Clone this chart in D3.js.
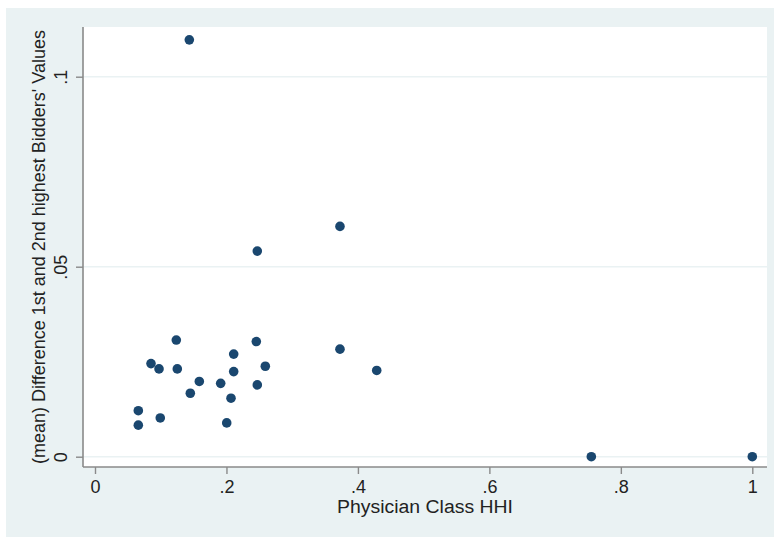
<!DOCTYPE html>
<html>
<head>
<meta charset="utf-8">
<script src="https://cdn.jsdelivr.net/npm/d3@7"></script>
<style>
  html, body { margin: 0; padding: 0; background: #fff; }
  svg { display: block; }
</style>
</head>
<body>
<svg id="chart" width="774" height="537"></svg>
<script>
/* data */
const hhi = [0.1435, 0.3727, 0.2469, 0.1237, 0.2454, 0.3727, 0.2110, 0.0852, 0.0974, 0.1252, 0.2591, 0.2110,
  0.4286, 0.1587, 0.1912, 0.2469, 0.1450, 0.2069, 0.0659, 0.0993, 0.0659, 0.2004, 0.7551, 1.0]
const bidDiff = [0.1097, 0.0606, 0.0541, 0.0307, 0.0303, 0.0283, 0.0270, 0.0245, 0.0231, 0.0231, 0.0238, 0.0224,
  0.0227, 0.0198, 0.0193, 0.0189, 0.0167, 0.0154, 0.0121, 0.0102, 0.0083, 0.0089, 0, 0]

const xTicks = [0, 0.2, 0.4, 0.6, 0.8, 1]
const xTickLabels = ["0", ".2", ".4", ".6", ".8", "1"]
const yTicks = [0, 0.05, 0.1]
const yTickLabels = ["0", ".05", ".1"]

const xTitle = "Physician Class HHI"
const yTitle = "(mean) Difference 1st and 2nd highest Bidders' Values"

/* layout */
const width = 774
const height = 537
const plotLeft = 83
const plotRight = 767
const plotTop = 27
const plotBottom = 467
const font = "'Liberation Sans', Arial, sans-serif"
const textColor = "#222"
const axisColor = "#8a8a8a"

const svg = d3.select("#chart")

/* outer (graph region) and inner (plot region) backgrounds */
svg.append("rect")
.attr("x", 6).attr("y", 8)
.attr("width", width - 6).attr("height", height - 8)
.attr("fill", "#eaf2f3")

svg.append("rect")
.attr("x", plotLeft).attr("y", plotTop)
.attr("width", plotRight - plotLeft).attr("height", plotBottom - plotTop)
.attr("fill", "#fff")

/* scales */
const x = d3.scaleLinear([0, 1], [95, 752.3])
const y = d3.scaleLinear([0, 0.1], [456.7, 76.7])

/* grid lines */
svg.append("g")
.selectAll("line")
.data(yTicks)
.join("line")
.attr("x1", plotLeft).attr("x2", plotRight)
.attr("y1", d => y(d)).attr("y2", d => y(d))
.attr("stroke", "#eaf2f3")
.attr("stroke-width", 1.6)

/* x axis */
const gx = svg.append("g")
.attr("transform", `translate(0, ${plotBottom})`)
.call(d3.axisBottom(x).tickValues(xTicks).tickFormat((d, i) => xTickLabels[i]).tickSize(7))
gx.select(".domain").remove()
gx.selectAll(".tick line").attr("stroke", axisColor).attr("stroke-width", 1.4)
gx.selectAll(".tick text")
.attr("fill", textColor)
.style("font", `18px ${font}`)
.attr("dy", null)
.attr("y", 26)

gx.append("line")
.attr("x1", plotLeft).attr("x2", plotRight)
.attr("stroke", axisColor).attr("stroke-width", 1.6)

/* y axis, labels rotated as in Stata */
const gy = svg.append("g")
.attr("transform", `translate(${plotLeft},0)`)
.call(d3.axisLeft(y).tickValues(yTicks).tickFormat((d, i) => yTickLabels[i]).tickSize(7))
gy.select(".domain").remove()
gy.selectAll(".tick line").attr("stroke", axisColor).attr("stroke-width", 1.4)
gy.selectAll(".tick text")
.attr("fill", textColor)
.style("font", `18px ${font}`)
.attr("x", null).attr("dy", null)
.attr("text-anchor", "middle")
.attr("transform", "translate(-16, 0) rotate(-90)")

gy.append("line")
.attr("y1", plotTop).attr("y2", plotBottom)
.attr("stroke", axisColor).attr("stroke-width", 1.6)

/* axis titles */
svg.append("text")
.attr("x", (plotLeft + plotRight) / 2)
.attr("y", 513)
.attr("text-anchor", "middle")
.attr("fill", textColor)
.attr("textLength", 176)
.attr("lengthAdjust", "spacingAndGlyphs")
.style("font", `18px ${font}`)
.text(xTitle)

svg.append("text")
.attr("transform", `translate(45, ${(plotTop + plotBottom) / 2}) rotate(-90)`)
.attr("text-anchor", "middle")
.attr("fill", textColor)
.style("font", `18px ${font}`)
.text(yTitle)

/* markers */
svg.append("g")
.selectAll("circle")
.data(d3.range(hhi.length))
.join("circle")
.attr("cx", i => x(hhi[i]))
.attr("cy", i => y(bidDiff[i]))
.attr("r", 4.8)
.attr("fill", "#1a476f")
</script>
</body>
</html>
